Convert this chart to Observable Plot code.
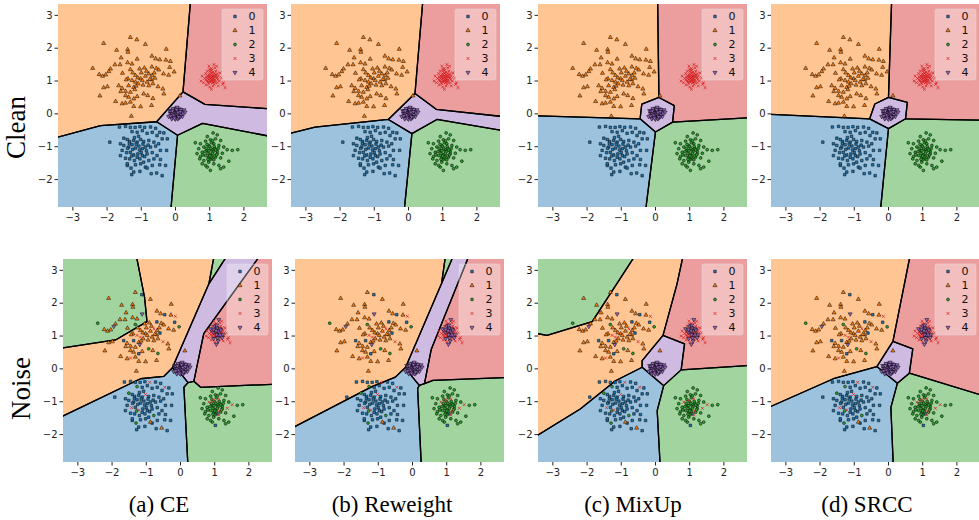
<!DOCTYPE html>
<html><head><meta charset="utf-8">
<script src="https://cdn.jsdelivr.net/npm/d3@7"></script>
<script src="https://cdn.jsdelivr.net/npm/@observablehq/plot@0.6"></script>
<style>
body{margin:0;background:#fff;}
#wrap{position:relative;width:979px;height:520px;overflow:hidden;background:#fff;}
.panel{position:absolute;}
.rowlab{position:absolute;font-family:"Liberation Serif","Times New Roman",serif;font-size:27px;color:#000;white-space:nowrap;transform-origin:0 0;transform:rotate(-90deg);line-height:1;}
.cap{position:absolute;font-family:"Liberation Serif","Times New Roman",serif;font-size:23px;color:#000;white-space:nowrap;transform:translateX(-50%);line-height:1;}
</style></head>
<body><div id="wrap"></div>
<script>
// ---------------- data ----------------
const classNames = ["0","1","2","3","4"];
const xTicks = [-3,-2,-1,0,1,2];
const yTicks = [-2,-1,0,1,2,3];
const xDomain = [-3.42, 2.69];
const yDomain = [-2.85, 3.33];
const captions = ["(a) CE","(b) Reweight","(c) MixUp","(d) SRCC"];
const rowLabels = ["Clean","Noise"];
const classColors = ["#1f77b4","#ff7f0e","#2ca02c","#d62728","#9467bd"];
const regionColors = ["#9cc2dd","#ffc593","#a2d4a0","#ec9e9e","#cfbae1"];

// points: [x, y, noisy label]; clean label = class of the array
const pointsClass0 = [[-1.64,-0.40,0],[-1.46,-0.38,0],[-1.32,-0.41,0],[-1.18,-0.41,0],[-1.04,-0.39,0],[-0.90,-0.41,3],[-0.73,-0.40,0],[-0.58,-0.44,0],[-0.46,-0.56,3],[-0.34,-0.58,0],[-1.27,-0.54,2],[-1.12,-0.56,0],[-0.97,-0.51,0],[-0.83,-0.59,0],[-0.68,-0.56,0],[-0.54,-0.66,0],[-0.39,-0.76,0],[-0.24,-0.76,0],[-1.92,-0.86,0],[-1.51,-0.74,2],[-1.41,-0.78,0],[-1.34,-0.84,0],[-1.22,-0.81,0],[-1.12,-0.86,0],[-1.02,-0.78,3],[-0.93,-0.84,0],[-0.78,-0.81,0],[-0.63,-0.86,0],[-0.49,-0.91,0],[-1.61,-0.91,0],[-1.51,-0.96,0],[-1.37,-1.01,0],[-1.27,-0.94,0],[-1.17,-1.04,0],[-1.07,-0.98,0],[-0.97,-1.06,0],[-0.88,-1.01,0],[-0.73,-1.01,0],[-0.58,-0.98,0],[-0.44,-1.11,0],[-0.26,-1.11,0],[-1.56,-1.11,0],[-1.43,-1.18,3],[-1.32,-1.17,0],[-1.22,-1.25,3],[-1.10,-1.22,0],[-0.97,-1.27,0],[-0.83,-1.22,0],[-0.68,-1.18,0],[-0.54,-1.27,0],[-1.61,-1.27,0],[-1.46,-1.35,0],[-1.34,-1.37,0],[-1.20,-1.42,0],[-1.04,-1.37,0],[-0.93,-1.47,0],[-0.78,-1.42,2],[-0.63,-1.37,0],[-0.44,-1.39,0],[-1.41,-1.57,0],[-1.30,-1.65,2],[-1.17,-1.55,0],[-1.02,-1.52,0],[-0.88,-1.62,1],[-0.68,-1.57,0],[-0.46,-1.55,0],[-0.29,-1.57,0],[-1.22,-1.77,0],[-1.04,-1.75,0],[-0.83,-1.65,0],[-0.71,-1.82,0],[-0.39,-1.88,0],[-1.41,-1.52,0],[-1.28,-1.85,0],[-0.55,-1.80,1],[-1.15,-0.92,0],[-1.05,-1.10,0],[-1.25,-1.08,0],[-0.95,-0.92,0],[-1.35,-0.90,0],[-1.00,-1.18,0],[-1.20,-0.72,0],[-0.85,-1.12,0],[-1.40,-1.05,0],[-1.08,-0.68,0],[-0.90,-1.30,0],[-1.28,-1.28,2],[-0.80,-0.95,0],[-1.12,-1.32,0]];
const pointsClass1 = [[-2.10,2.15,1],[-1.32,2.33,1],[-1.13,2.26,0],[-0.88,2.12,1],[-0.27,1.97,1],[-1.72,1.94,1],[-1.40,1.96,1],[-1.39,1.88,1],[-1.59,1.71,1],[-1.12,1.67,4],[-0.69,1.76,1],[-0.58,1.68,1],[-0.46,1.65,0],[-0.28,1.64,1],[-0.15,1.60,3],[-1.77,1.50,1],[-1.62,1.50,1],[-1.40,1.56,1],[-1.27,1.52,1],[-2.42,1.39,2],[-1.90,1.37,1],[-1.95,1.29,4],[-2.23,1.20,1],[-2.13,1.15,1],[-2.04,1.19,1],[-1.55,1.24,1],[-1.32,1.35,2],[-1.05,1.37,1],[-0.91,1.40,1],[-0.69,1.43,0],[-0.56,1.39,1],[-0.49,1.34,1],[-0.17,1.42,0],[-0.04,1.28,2],[-0.20,1.18,1],[-0.35,1.22,1],[-1.17,1.17,1],[-1.02,1.07,1],[-0.88,1.15,1],[-0.78,1.22,3],[-0.68,1.17,1],[-0.60,1.09,0],[-1.39,1.07,1],[-1.44,1.04,1],[-1.27,1.02,3],[-1.17,0.97,3],[-0.97,1.02,1],[-0.83,0.97,1],[-0.70,1.04,1],[-1.66,0.86,0],[-1.56,0.78,1],[-1.37,0.86,0],[-1.22,0.81,1],[-1.09,0.92,1],[-0.78,0.86,1],[-0.66,0.92,1],[-0.51,0.83,3],[-2.10,0.80,1],[-1.99,0.83,1],[-1.60,0.68,1],[-1.46,0.69,1],[-1.32,0.66,1],[-1.19,0.74,4],[-0.93,0.61,2],[-0.81,0.56,1],[-0.37,0.76,1],[-0.34,0.61,1],[-2.21,0.55,1],[-1.46,0.56,1],[-1.37,0.51,1],[-1.22,0.46,0],[-1.12,0.53,1],[-0.66,0.47,2],[-1.75,0.38,1],[-1.56,0.31,1],[-1.46,0.33,3],[-1.32,0.36,1],[-1.22,0.23,1],[-1.02,0.22,1],[-0.70,0.26,1],[-1.29,-0.07,1],[0.13,0.55,1],[-1.00,1.25,1],[-0.95,0.88,1],[-1.10,1.10,1],[-0.75,1.05,1],[-1.25,1.25,1],[-0.85,1.30,1],[-1.15,0.85,1],[-0.62,1.25,1]];
const pointsClass2 = [[1.10,-0.58,2],[1.22,-0.64,2],[0.93,-0.69,2],[0.58,-0.88,2],[0.73,-0.91,2],[0.88,-0.83,2],[1.02,-0.79,2],[1.17,-0.76,2],[1.32,-0.81,2],[0.83,-1.01,3],[0.97,-0.96,3],[1.12,-0.91,3],[1.27,-0.96,2],[1.41,-1.01,2],[0.68,-1.06,2],[1.51,-1.09,3],[1.66,-1.11,2],[0.78,-1.17,2],[0.93,-1.11,2],[1.07,-1.09,2],[1.22,-1.14,2],[1.37,-1.20,3],[0.63,-1.21,2],[0.73,-1.30,2],[0.88,-1.27,2],[1.02,-1.24,2],[1.17,-1.32,2],[1.32,-1.34,2],[1.56,-1.44,2],[0.83,-1.42,2],[0.97,-1.47,2],[1.12,-1.52,2],[1.27,-1.57,2],[1.41,-1.62,2],[0.93,-1.62,2],[1.02,-1.72,0],[1.32,-1.67,2],[0.78,-1.52,2],[0.71,-1.37,2],[1.07,-1.37,0],[1.22,-1.21,2],[0.97,-1.32,2],[0.88,-1.57,2],[1.12,-1.40,3],[1.82,-1.09,2],[1.00,-1.00,2],[1.10,-1.15,2],[0.95,-1.20,2],[1.15,-1.05,2],[1.05,-1.30,2],[0.90,-1.05,2],[1.20,-1.25,2],[1.00,-1.40,2],[1.03,-1.05,2],[0.98,-1.12,2],[1.08,-1.20,2],[1.13,-0.99,2],[0.92,-0.93,2],[1.05,-0.88,2],[1.18,-1.10,2],[0.86,-1.15,2],[1.00,-1.28,2],[1.25,-1.05,2],[0.95,-1.38,2],[1.14,-1.28,3],[1.08,-0.82,2],[0.80,-1.25,2]];
const pointsClass3 = [[1.05,1.10,3],[1.10,1.15,4],[0.98,1.05,3],[1.12,1.02,4],[1.02,1.20,3],[0.95,1.15,3],[1.15,1.22,4],[1.20,1.08,3],[1.08,0.95,4],[0.92,1.00,3],[1.00,1.30,4],[1.18,1.30,3],[1.25,1.15,3],[0.88,1.22,4],[1.05,1.38,3],[1.13,0.90,3],[0.97,0.92,4],[1.28,1.00,3],[0.85,1.08,3],[1.22,0.95,4],[1.03,1.02,3],[1.07,1.25,4],[0.93,1.30,3],[1.15,1.40,3],[1.30,1.25,3],[0.82,0.95,3],[1.10,0.85,4],[0.98,1.45,3],[1.35,1.10,3],[1.00,0.82,3],[0.78,1.15,3],[1.40,0.95,3],[1.45,0.80,3],[0.75,1.00,3],[1.38,0.90,3],[1.12,1.50,4],[1.20,1.45,3],[0.90,0.88,3],[1.25,0.85,3],[1.05,0.75,4],[1.08,1.08,3],[0.96,1.12,4],[1.14,1.12,3],[1.02,0.96,3],[1.18,1.18,4],[1.01,1.08,3],[1.06,1.04,4],[1.11,1.07,3],[0.99,1.13,3],[1.04,1.16,4],[1.09,1.19,3],[1.13,1.16,3],[0.94,1.07,3],[1.16,1.03,4],[1.01,0.99,3],[1.07,1.00,3],[1.12,0.97,3],[0.97,1.20,4],[1.03,1.25,3],[1.10,1.27,3],[1.19,1.12,3],[0.90,1.12,3],[1.06,1.33,4],[1.22,1.22,3],[0.89,1.04,3],[1.15,0.98,3],[1.00,1.36,3],[0.95,0.97,3],[1.24,1.05,4],[1.09,1.12,3]];
const pointsClass4 = [[0.00,0.00,4],[0.05,0.03,4],[-0.05,-0.02,4],[0.08,-0.05,4],[-0.08,0.05,4],[0.02,0.10,4],[-0.03,-0.10,4],[0.12,0.04,4],[-0.12,-0.03,4],[0.06,0.12,4],[-0.06,0.12,4],[0.10,-0.12,4],[-0.10,-0.12,4],[0.15,-0.02,4],[-0.15,0.02,4],[0.03,-0.06,4],[-0.02,0.06,4],[0.18,0.08,4],[-0.17,0.10,4],[0.00,0.17,4],[0.00,-0.16,4],[0.20,-0.08,4],[-0.04,0.02,4],[0.04,-0.02,4],[0.09,0.08,4],[-0.09,-0.07,4],[0.13,-0.09,4],[-0.13,0.08,4],[0.07,-0.15,4],[-0.07,0.16,4],[0.22,0.02,4],[0.25,0.12,4],[-0.20,-0.08,4],[0.01,0.04,4],[-0.01,-0.04,4],[0.11,0.15,4],[-0.11,-0.15,4],[0.16,0.13,4],[0.28,0.05,4],[0.05,0.20,4],[0.02,0.02,4],[-0.02,-0.01,4],[0.06,-0.03,4],[-0.06,0.03,4],[0.04,0.07,4],[-0.04,-0.07,4],[0.10,0.02,4],[-0.10,0.00,4],[0.07,0.05,4],[-0.07,-0.04,4],[0.14,0.07,4],[-0.14,-0.06,4],[0.03,0.13,4],[-0.03,-0.13,4],[0.09,-0.09,4],[-0.09,0.09,4]];

// decision regions: [class, polygon vertices in data coords (outer vertices lie outside the frame)]
const regionsCleanCE = [
 [1,[[-3.8,3.7],[0.46,3.7],[0.22,0.67],[-0.55,-0.24],[-2.19,-0.36],[-3.8,-0.81]]],
 [3,[[0.46,3.7],[3.1,3.7],[3.1,0.13],[0.86,0.29],[0.22,0.67]]],
 [4,[[0.22,0.67],[0.86,0.29],[3.1,0.13],[3.1,-0.75],[0.79,-0.29],[0.06,-0.65],[-0.55,-0.24]]],
 [2,[[0.06,-0.65],[0.79,-0.29],[3.1,-0.75],[3.1,-3.2],[-0.16,-3.2]]],
 [0,[[-3.8,-0.81],[-2.19,-0.36],[-0.55,-0.24],[0.06,-0.65],[-0.16,-3.2],[-3.8,-3.2]]]
];
const regionsCleanReweight = [
 [1,[[-3.8,3.7],[0.44,3.7],[0.19,0.62],[-0.59,-0.17],[-2.73,-0.40],[-3.8,-0.68]]],
 [3,[[0.44,3.7],[3.1,3.7],[3.1,-0.12],[0.81,0.14],[0.19,0.62]]],
 [4,[[0.19,0.62],[0.81,0.14],[3.1,-0.12],[3.1,-0.57],[0.83,-0.17],[0.10,-0.60],[-0.59,-0.17]]],
 [2,[[0.10,-0.60],[0.83,-0.17],[3.1,-0.57],[3.1,-3.2],[-0.15,-3.2]]],
 [0,[[-3.8,-0.68],[-2.73,-0.40],[-0.59,-0.17],[0.10,-0.60],[-0.15,-3.2],[-3.8,-3.2]]]
];
const regionsCleanMixUp = [
 [1,[[-3.8,3.7],[0.06,3.7],[0.10,0.50],[-0.40,0.30],[-0.45,-0.15],[-3.8,-0.05]]],
 [3,[[0.06,3.7],[3.1,3.7],[3.1,-0.10],[0.50,-0.25],[0.55,0.25],[0.10,0.50]]],
 [4,[[0.10,0.50],[0.55,0.25],[0.50,-0.25],[0.0,-0.55],[-0.45,-0.15],[-0.40,0.30]]],
 [2,[[0.50,-0.25],[3.1,-0.10],[3.1,-3.2],[-0.32,-3.2],[0.0,-0.55]]],
 [0,[[-3.8,-0.05],[-0.45,-0.15],[0.0,-0.55],[-0.32,-3.2],[-3.8,-3.2]]]
];
const regionsCleanSRCC = [
 [1,[[-3.8,3.7],[0.10,3.7],[0.0,0.50],[-0.40,0.30],[-0.55,-0.15],[-3.8,0.0]]],
 [3,[[0.10,3.7],[3.1,3.7],[3.1,-0.20],[0.50,-0.15],[0.55,0.35],[0.0,0.50]]],
 [4,[[0.0,0.50],[0.55,0.35],[0.50,-0.15],[0.0,-0.45],[-0.55,-0.15],[-0.40,0.30]]],
 [2,[[0.50,-0.15],[3.1,-0.20],[3.1,-3.2],[-0.26,-3.2],[0.0,-0.45]]],
 [0,[[-3.8,0.0],[-0.55,-0.15],[0.0,-0.45],[-0.26,-3.2],[-3.8,-3.2]]]
];
const regionsNoiseCE = [
 [2,[[-3.8,3.7],[-1.34,3.7],[-1.05,2.18],[-0.98,1.44],[-1.90,0.88],[-3.8,0.58]]],
 [1,[[-1.34,3.7],[1.03,3.7],[0.83,2.59],[-0.24,0.03],[-0.49,-0.23],[-1.17,-0.30],[-3.8,-1.62],[-3.8,0.58],[-1.90,0.88],[-0.98,1.44],[-1.05,2.18]]],
 [2,[[1.03,3.7],[1.52,3.7],[0.83,2.59]]],
 [4,[[0.83,2.59],[1.52,3.7],[2.50,3.7],[0.68,1.07],[0.39,-0.38],[0.22,-0.42],[0.05,-0.20],[-0.24,0.03]]],
 [3,[[2.50,3.7],[3.1,3.7],[3.1,-0.45],[0.59,-0.56],[0.39,-0.38],[0.68,1.07]]],
 [2,[[0.39,-0.38],[0.59,-0.56],[3.1,-0.45],[3.1,-3.2],[0.23,-3.2],[0.10,-0.56],[0.22,-0.42]]],
 [0,[[-3.8,-1.62],[-1.17,-0.30],[-0.49,-0.23],[-0.24,0.03],[0.05,-0.20],[0.22,-0.42],[0.10,-0.56],[0.23,-3.2],[-3.8,-3.2]]]
];
const regionsNoiseReweight = [
 [1,[[-3.8,3.7],[1.0,3.7],[0.85,2.6],[-0.2,0.05],[-0.5,-0.25],[-1.2,-0.55],[-3.8,-1.95]]],
 [2,[[1.0,3.7],[1.3,3.7],[0.85,2.6]]],
 [4,[[0.85,2.6],[1.3,3.7],[1.75,3.7],[0.55,0.6],[0.35,-0.45],[0.2,-0.5],[0.0,-0.25],[-0.2,0.05]]],
 [3,[[1.75,3.7],[3.1,3.7],[3.1,-0.25],[0.6,-0.35],[0.35,-0.45],[0.55,0.6]]],
 [2,[[0.35,-0.45],[0.6,-0.35],[3.1,-0.25],[3.1,-3.2],[0.27,-3.2],[0.15,-0.6],[0.2,-0.5]]],
 [0,[[-3.8,-1.95],[-1.2,-0.55],[-0.5,-0.25],[-0.2,0.05],[0.0,-0.25],[0.2,-0.5],[0.15,-0.6],[0.27,-3.2],[-3.8,-3.2]]]
];
const regionsNoiseMixUp = [
 [2,[[-3.8,3.7],[-0.44,3.7],[-1.85,1.44],[-3.17,1.02],[-3.8,1.14]]],
 [1,[[-0.44,3.7],[0.86,3.7],[0.63,2.59],[0.22,1.02],[-0.39,0.25],[-0.39,0.05],[-1.17,-0.36],[-2.2,-1.22],[-3.8,-2.25],[-3.8,1.14],[-3.17,1.02],[-1.85,1.44]]],
 [3,[[0.86,3.7],[3.1,3.7],[3.1,0.13],[0.75,-0.03],[0.85,0.76],[0.22,1.02],[0.63,2.59]]],
 [4,[[0.22,1.02],[0.85,0.76],[0.75,-0.03],[0.24,-0.51],[-0.39,0.05],[-0.39,0.25]]],
 [2,[[0.75,-0.03],[3.1,0.13],[3.1,-3.2],[0.15,-3.2],[0.05,-1.27],[0.24,-0.51]]],
 [0,[[-3.8,-2.25],[-2.2,-1.22],[-1.17,-0.36],[-0.39,0.05],[0.24,-0.51],[0.05,-1.27],[0.15,-3.2],[-3.8,-3.2]]]
];
const regionsNoiseSRCC = [
 [1,[[-3.8,3.7],[0.68,3.7],[0.13,0.84],[-0.34,0.07],[-1.61,-0.30],[-3.8,-1.31]]],
 [3,[[0.68,3.7],[3.1,3.7],[3.1,-0.92],[0.61,-0.13],[0.71,0.61],[0.13,0.84]]],
 [4,[[0.13,0.84],[0.71,0.61],[0.61,-0.13],[0.26,-0.44],[-0.34,0.07]]],
 [2,[[0.61,-0.13],[3.1,-0.92],[3.1,-3.2],[0.15,-3.2],[0.07,-1.17],[0.26,-0.44]]],
 [0,[[-3.8,-1.31],[-1.61,-0.30],[-0.34,0.07],[0.26,-0.44],[0.07,-1.17],[0.15,-3.2],[-3.8,-3.2]]]
];

// ---------------- layout ----------------
const PW = 209, PH = 203, ML = 34, MR = 2, MT = 2, MB = 24;
const panels = [
 {left:58,  top:4,   regions:regionsCleanCE,       noisy:false},
 {left:291, top:4,   regions:regionsCleanReweight, noisy:false},
 {left:538, top:4,   regions:regionsCleanMixUp,    noisy:false},
 {left:771, top:4,   regions:regionsCleanSRCC,     noisy:false},
 {left:62.5,top:259, regions:regionsNoiseCE,       noisy:true},
 {left:295, top:259, regions:regionsNoiseReweight, noisy:true},
 {left:538, top:259, regions:regionsNoiseMixUp,    noisy:true},
 {left:771, top:259, regions:regionsNoiseSRCC,     noisy:true}
];

const allPoints = [pointsClass0,pointsClass1,pointsClass2,pointsClass3,pointsClass4];
function pointTable(noisy){
  const rows = [];
  allPoints.forEach((arr, c) => arr.forEach(p => rows.push({x:p[0], y:p[1], label: noisy ? p[2] : c})));
  return rows;
}
const fmt = d => d < 0 ? "\u2212" + Math.abs(d) : String(d);
const symbolSpec = [
 {symbol:"square",   fill:classColors[0], stroke:"#000", strokeWidth:0.5, r:1.45},
 {symbol:"triangle", fill:classColors[1], stroke:"#000", strokeWidth:0.5, r:1.5},
 {symbol:"circle",   fill:classColors[2], stroke:"#000", strokeWidth:0.5, r:1.45},
 {symbol:"times",    fill:"none", stroke:classColors[3], strokeWidth:0.8, r:1.4},
 {symbol:"triangle", fill:classColors[4], stroke:"#000", strokeWidth:0.5, r:1.5, rotate:180}
];

function makePanel(cfg){
  const rows = pointTable(cfg.noisy);
  const marks = [];
  cfg.regions.forEach(([lab, poly]) => marks.push(Plot.line(poly, {x:d=>d[0], y:d=>d[1], curve:"linear-closed", fill:regionColors[lab], stroke:regionColors[lab], strokeWidth:0.5, clip:true})));
  cfg.regions.forEach(([lab, poly]) => marks.push(Plot.line(poly, {x:d=>d[0], y:d=>d[1], curve:"linear-closed", fill:"none", stroke:"#000", strokeWidth:1.3, clip:true})));
  [0,1,2,3,4].forEach(c => {
    const s = symbolSpec[c];
    marks.push(Plot.dot(rows.filter(d => d.label === c), {x:"x", y:"y", symbol:s.symbol, fill:s.fill, stroke:s.stroke, strokeWidth:s.strokeWidth, r:s.r, rotate:s.rotate || 0, clip:true}));
  });
  marks.push(Plot.axisX({ticks:xTicks, tickSize:3.5, tickPadding:2.5, tickFormat:fmt, fontSize:10, fill:"#222", stroke:"#222", label:null}));
  marks.push(Plot.axisY({ticks:yTicks, tickSize:3.5, tickPadding:2.5, tickFormat:fmt, fontSize:10, fill:"#222", stroke:"#222", label:null}));
  const svg = Plot.plot({
    width: PW + ML + MR, height: PH + MT + MB,
    marginLeft: ML, marginRight: MR, marginTop: MT, marginBottom: MB,
    x: {domain: xDomain, label: null}, y: {domain: yDomain, label: null},
    style: {fontFamily: "DejaVu Sans", background: "transparent", overflow: "visible", color:"#222"},
    marks
  });
  // legend
  const g = d3.select(svg).append("g");
  const bx = ML + PW - 45, by = MT + 5, bw = 41, bh = 71;
  g.append("rect").attr("x", bx).attr("y", by).attr("width", bw).attr("height", bh).attr("rx", 2)
    .attr("fill", "#fff").attr("fill-opacity", 0.33).attr("stroke", "#e6e6e6").attr("stroke-opacity", 0.5).attr("stroke-width", 0.8);
  const d3sym = {square:d3.symbolSquare, triangle:d3.symbolTriangle, circle:d3.symbolCircle, times:d3.symbolTimes};
  classNames.forEach((name, i) => {
    const s = symbolSpec[i];
    const cy = by + 7.5 + i * 14;
    g.append("path").attr("d", d3.symbol(d3sym[s.symbol], Math.PI * s.r * s.r)())
      .attr("transform", `translate(${bx + 13},${cy}) rotate(${s.rotate || 0})`)
      .attr("fill", s.fill).attr("stroke", s.stroke).attr("stroke-width", s.strokeWidth);
    g.append("text").attr("x", bx + 30).attr("y", cy).attr("dy", "0.36em")
      .attr("font-family", "DejaVu Sans").attr("font-size", 11).attr("fill", "#111").text(name);
  });
  svg.classList.add("panel");
  svg.style.left = (cfg.left - ML) + "px";
  svg.style.top = (cfg.top - MT) + "px";
  return svg;
}

const wrap = document.getElementById("wrap");
panels.forEach(p => wrap.appendChild(makePanel(p)));

// row labels (rotated) and captions
const rowPos = [{x:30, y:128}, {x:34.5, y:388}];
rowLabels.forEach((t, i) => {
  const d = document.createElement("div");
  d.className = "rowlab"; d.textContent = t;
  wrap.appendChild(d);
  const w = d.getBoundingClientRect().height;
  d.style.left = (rowPos[i].x - 27) + "px";
  d.style.top = (rowPos[i].y + w / 2) + "px";
});
const capX = [159, 392, 633, 867];
captions.forEach((t, i) => {
  const d = document.createElement("div");
  d.className = "cap"; d.textContent = t;
  d.style.left = capX[i] + "px"; d.style.top = "493px";
  wrap.appendChild(d);
});
</script></body></html>
